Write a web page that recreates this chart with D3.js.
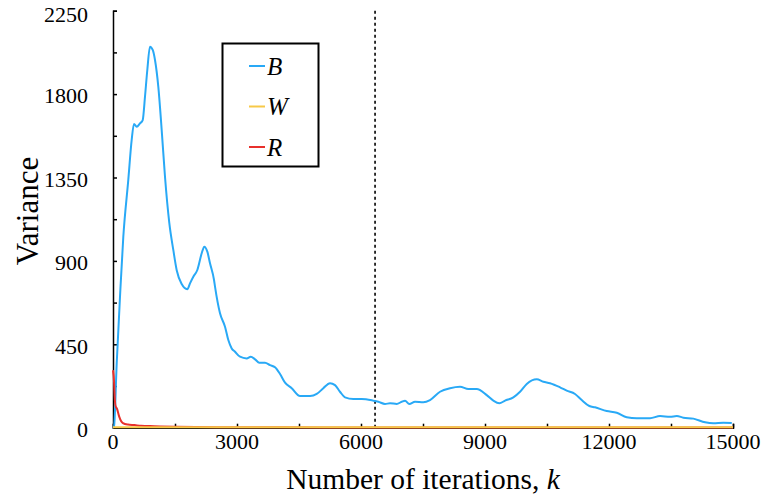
<!DOCTYPE html>
<html>
<head>
<meta charset="utf-8">
<script src="https://d3js.org/d3.v7.min.js"></script>
<style>
  body { margin: 0; background: #fff; }
  text { font-family: "Liberation Serif", "DejaVu Serif", serif; fill: #000; }
</style>
</head>
<body>
<svg width="764" height="497"></svg>
<script>
// iterations k and variance of B
var bK = [0, 24, 90, 169, 249, 370, 452, 508, 573, 653, 719, 774, 830, 895, 961, 1016, 1096, 1178, 1258, 1362,
  1459, 1541, 1662, 1798, 1863, 1943, 2040, 2146, 2209, 2282, 2347, 2444, 2468, 2589, 2710, 2790, 2872, 2952,
  3073, 3235, 3332, 3436, 3540, 3678, 3799, 3920, 4041, 4162, 4324, 4525, 4767, 4929, 5088, 5250, 5371, 5492,
  5613, 5814, 6018, 6298, 6419, 6581, 6702, 6864, 6985, 7065, 7169, 7307, 7508, 7670, 7912, 8154, 8396, 8597,
  8800, 9042, 9202, 9347, 9485, 9686, 9848, 10010, 10252, 10411, 10573, 10815, 10977, 11178, 11340, 11524,
  11662, 11945, 12187, 12429, 12671, 12993, 13235, 13477, 13639, 13799, 14041, 14325, 14525, 14767, 14970];
var bV = [0, 5, 349, 705, 1029, 1337, 1553, 1639, 1624, 1642, 1660, 1786, 1930, 2056, 2038, 1984, 1840, 1606, 1354, 1105,
  959, 850, 775, 747, 779, 815, 851, 941, 977, 950, 887, 797, 761, 617, 545, 473, 428, 410,
  383, 374, 383, 369, 351, 351, 338, 326, 290, 243, 213, 171, 171, 182, 213, 240, 230, 194,
  164, 155, 155, 146, 140, 128, 132, 128, 140, 146, 128, 140, 137, 149, 194, 213, 221, 209,
  209, 176, 146, 132, 146, 164, 194, 236, 261, 248, 240, 218, 200, 182, 149, 117,
  110, 90, 81, 56, 51, 51, 63, 59, 63, 54, 49, 29, 24, 27, 25];

// variance of R
var rK = [0, 25, 40, 60, 100, 150, 240, 360, 520, 680, 1000, 1500, 2500, 4000, 6000, 9000, 12000, 15000];
var rV = [310, 250, 170, 120, 100, 60, 25, 17, 14, 10, 8, 5, 3, 2, 1, 1, 1, 1];

// variance of W (stays near zero)
var wK = [0, 1500, 3000, 4500, 6000, 7500, 9000, 10500, 12000, 13500, 15000];
var wV = [2, 2, 2, 2, 2, 2, 2, 2, 2, 2, 2];

var xTicks = [0, 3000, 6000, 9000, 12000, 15000];
var yTicks = [0, 450, 900, 1350, 1800, 2250];
var markerK = 6340;

var legendNames = ["B", "W", "R"];
var colors = {B: "#29a9f6", W: "#f7c948", R: "#e8302c"};

var svg = d3.select("svg");
var x = d3.scaleLinear().domain([0, 15000]).range([113, 733]);
var y = d3.scaleLinear().domain([0, 2250]).range([427.7, 10.7]);

function zip(ks, vs) { return ks.map(function(k, i) { return [k, vs[i]]; }); }

var line = d3.line()
  .x(function(d) { return x(d[0]); })
  .y(function(d) { return y(d[1]); })
  .curve(d3.curveMonotoneX);

// axes: ticks pointing inward
var yAxis = d3.axisRight(y).tickValues(d3.range(0, 2251, 225)).tickSize(4).tickFormat("");
svg.append("g").attr("transform", "translate(113,0)").call(yAxis)
  .call(function(g) { g.selectAll("line, path").attr("stroke", "#000").attr("stroke-width", 1.5); });

var xAxis = d3.axisTop(x).tickValues(d3.range(0, 15001, 1500)).tickSize(4).tickFormat("");
svg.append("g").attr("transform", "translate(0,427.7)").call(xAxis)
  .call(function(g) { g.selectAll("line, path").attr("stroke", "#000").attr("stroke-width", 1.5); });

// tick labels
svg.append("g").selectAll("text").data(yTicks).enter().append("text")
  .attr("x", 88).attr("y", function(d) { return Math.max(y(d) + 1.5, 14); })
  .attr("dy", "0.35em").attr("text-anchor", "end")
  .style("font-size", "22px").text(function(d) { return d; });

svg.append("g").selectAll("text").data(xTicks).enter().append("text")
  .attr("x", function(d) { return x(d); }).attr("y", 449)
  .attr("text-anchor", "middle")
  .style("font-size", "22px").text(function(d) { return d; });

// titles
var xt = svg.append("text").attr("x", 423).attr("y", 489).attr("text-anchor", "middle")
  .style("font-size", "29.5px");
xt.append("tspan").text("Number of iterations, ");
xt.append("tspan").style("font-style", "italic").text("k");

svg.append("text").attr("transform", "translate(38,211) rotate(-90)")
  .attr("text-anchor", "middle").style("font-size", "31px").text("Variance");

// dotted marker
svg.append("line")
  .attr("x1", x(markerK)).attr("x2", x(markerK))
  .attr("y1", y(2250)).attr("y2", y(0))
  .attr("stroke", "#000").attr("stroke-width", 1.6).attr("stroke-dasharray", "3,3");

// series
svg.append("path").datum(zip(bK, bV)).attr("d", line)
  .attr("fill", "none").attr("stroke", colors.B).attr("stroke-width", 2);
svg.append("path").datum(zip(rK, rV)).attr("d", line)
  .attr("fill", "none").attr("stroke", colors.R).attr("stroke-width", 2);
svg.append("path").datum(zip(wK, wV)).attr("d", line)
  .attr("fill", "none").attr("stroke", colors.W).attr("stroke-width", 2);

// legend
var lg = svg.append("g");
lg.append("rect").attr("x", 222.5).attr("y", 43.5).attr("width", 96).attr("height", 123)
  .attr("fill", "#fff").attr("stroke", "#000").attr("stroke-width", 2);
var items = lg.selectAll("g.item").data(legendNames).enter().append("g")
  .attr("transform", function(d, i) { return "translate(0," + (66 + i * 40.5) + ")"; });
items.append("line").attr("x1", 249).attr("x2", 265).attr("y1", 0).attr("y2", 0)
  .attr("stroke", function(d) { return colors[d]; }).attr("stroke-width", 2);
items.append("text").attr("x", 267).attr("dy", "0.35em")
  .style("font-size", "25px").style("font-style", "italic").text(function(d) { return d; });
</script>
</body>
</html>
